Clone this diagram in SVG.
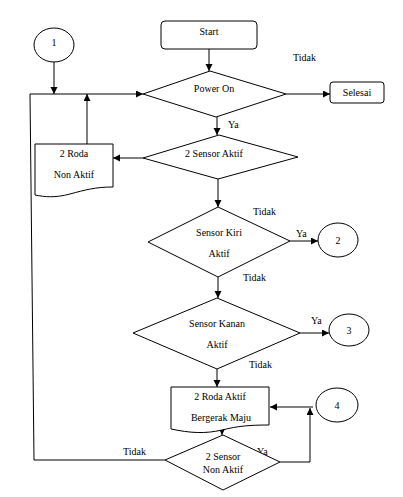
<svg xmlns="http://www.w3.org/2000/svg" width="403" height="497" viewBox="0 0 403 497">
<defs>
<marker id="ah" markerUnits="userSpaceOnUse" markerWidth="8" markerHeight="8" refX="7" refY="3.5" orient="auto">
<path d="M0,0 L7,3.5 L0,7 Z" fill="#000"/>
</marker>
<style>
.s{fill:#fff;stroke:#000;stroke-width:1}
.c{fill:none;stroke:#000;stroke-width:1}
.t{font-family:"Liberation Serif","Times New Roman",serif;font-size:10px;fill:#000}
.m{text-anchor:middle}
</style>
</defs>
<rect width="403" height="497" fill="#fff"/>
<g id="connectors">
<path class="c" d="M209,49 V71" marker-end="url(#ah)"/>
<path class="c" d="M286,94 H330" marker-end="url(#ah)"/>
<path class="c" d="M54,62 V94" marker-end="url(#ah)"/>
<path class="c" d="M165,460 L34,460 L30,94 L143,94" marker-end="url(#ah)"/>
<path class="c" d="M87,144 V94" marker-end="url(#ah)"/>
<path class="c" d="M143,158 H113" marker-end="url(#ah)"/>
<path class="c" d="M217,117 V135" marker-end="url(#ah)"/>
<path class="c" d="M218,179 V207" marker-end="url(#ah)"/>
<path class="c" d="M290,241 H318" marker-end="url(#ah)"/>
<path class="c" d="M218,277 V298" marker-end="url(#ah)"/>
<path class="c" d="M300,333 H329" marker-end="url(#ah)"/>
<path class="c" d="M217,369 V387" marker-end="url(#ah)"/>
<path class="c" d="M313,407 H270" marker-end="url(#ah)"/>
<path class="c" d="M280,462 H310 V408" marker-end="url(#ah)"/>
<path class="c" d="M222,428 V435" marker-end="url(#ah)"/>
</g>
<g id="labels">
<text class="t" x="293" y="61">Tidak</text>
<text class="t" x="228" y="128">Ya</text>
<text class="t" x="253" y="215">Tidak</text>
<text class="t" x="296" y="237">Ya</text>
<text class="t" x="243" y="281">Tidak</text>
<text class="t" x="311" y="324">Ya</text>
<text class="t" x="249" y="368">Tidak</text>
<text class="t" x="123" y="455">Tidak</text>
<text class="t" x="257" y="455">Ya</text>
</g>
<g id="n1">
<ellipse class="s" cx="54" cy="45" rx="20" ry="17"/>
<text class="t m" x="54" y="46">1</text>
</g>
<g id="start">
<rect class="s" x="161" y="21" width="96" height="28" rx="4"/>
<text class="t m" x="209" y="35">Start</text>
</g>
<g id="power">
<path class="s" d="M210,71 L286,94 L216,117 L143,94 Z"/>
<text class="t m" x="214" y="92">Power On</text>
</g>
<g id="selesai">
<rect class="s" x="330" y="82" width="54" height="21" rx="3"/>
<text class="t m" x="357" y="96">Selesai</text>
</g>
<g id="sensor2">
<path class="s" d="M219,135 L298,157 L218,179 L143,158 Z"/>
<text class="t m" x="214" y="157">2 Sensor Aktif</text>
</g>
<g id="rodanon">
<path class="s" d="M35,144 H113 V187 C95,187 85,190 70,194 C55,198 45,197 35,195 Z"/>
<text class="t m" x="74" y="157">2 Roda</text>
<text class="t m" x="74" y="178">Non Aktif</text>
</g>
<g id="kiri">
<path class="s" d="M218,207 L290,241 L218,277 L148,242 Z"/>
<text class="t m" x="219" y="236">Sensor Kiri</text>
<text class="t m" x="219" y="257">Aktif</text>
</g>
<g id="n2">
<ellipse class="s" cx="338" cy="240" rx="20" ry="17"/>
<text class="t m" x="338" y="244">2</text>
</g>
<g id="kanan">
<path class="s" d="M217,298 L300,333 L217,369 L133,333 Z"/>
<text class="t m" x="217" y="327">Sensor Kanan</text>
<text class="t m" x="217" y="348">Aktif</text>
</g>
<g id="n3">
<ellipse class="s" cx="349" cy="330" rx="20" ry="16"/>
<text class="t m" x="349" y="334">3</text>
</g>
<g id="rodaaktif">
<path class="s" d="M171,387 H269 V425 C250,425 238,426 222,430 C205,434 190,433 171,429 Z"/>
<text class="t m" x="220" y="400">2 Roda Aktif</text>
<text class="t m" x="221" y="421">Bergerak  Maju</text>
</g>
<g id="n4">
<ellipse class="s" cx="337" cy="405" rx="21" ry="17"/>
<text class="t m" x="337" y="409">4</text>
</g>
<g id="nonaktif">
<path class="s" d="M223,435 L280,462 L223,490 L165,460 Z"/>
<text class="t m" x="223" y="460">2 Sensor</text>
<text class="t m" x="223" y="473">Non Aktif</text>
</g>
</svg>
